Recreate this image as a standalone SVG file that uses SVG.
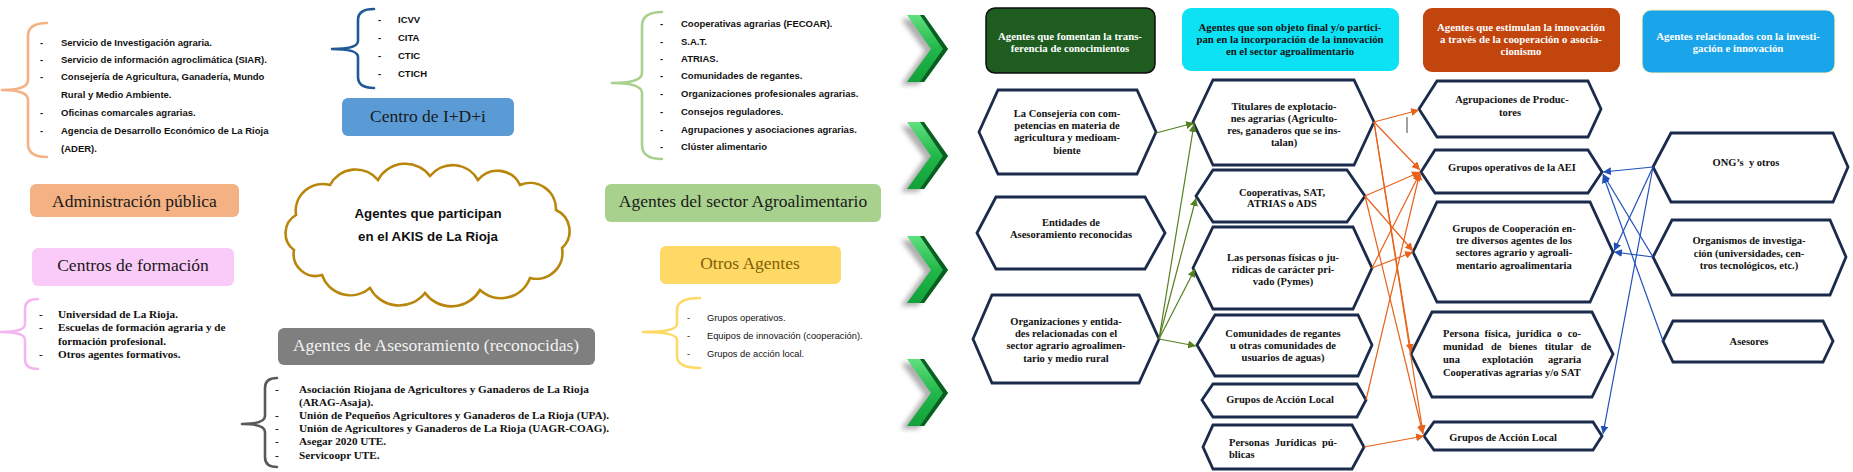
<svg xmlns="http://www.w3.org/2000/svg" width="1853" height="472" viewBox="0 0 1853 472">
<style>
.hex{fill:#fff;stroke:#1A2B4C;stroke-width:2.8;stroke-linejoin:miter}
.ht{font-family:"Liberation Serif",serif;font-weight:bold;font-size:10.5px;fill:#111;text-anchor:middle}
.hw{font-family:"Liberation Serif",serif;font-weight:bold;font-size:10.8px;fill:#fff;text-anchor:middle}
.hd{font-family:"Liberation Serif",serif;font-weight:bold;font-size:10.8px;fill:#111;text-anchor:middle}
.lbl{font-family:"Liberation Serif",serif;font-size:17.5px;text-anchor:middle;fill:#1a1a1a}
.ls{font-family:"Liberation Sans",sans-serif;font-weight:bold;font-size:9.5px;fill:#111}
.lr{font-family:"Liberation Sans",sans-serif;font-size:9.3px;fill:#111}
.lf{font-family:"Liberation Serif",serif;font-weight:bold;font-size:11.2px;fill:#111}
.brace{fill:none;stroke-width:2.6;stroke-linecap:round;stroke-linejoin:round}
.cg{stroke:#54801F;stroke-width:1.2;fill:none;marker-end:url(#ag)}
.co{stroke:#E8621A;stroke-width:1.2;fill:none;marker-end:url(#ao)}
.cb{stroke:#2150B8;stroke-width:1.2;fill:none;marker-end:url(#ab)}
</style>
<defs>
<marker id="ag" markerUnits="userSpaceOnUse" markerWidth="8" markerHeight="8" viewBox="0 0 10 10" refX="10" refY="5" orient="auto"><path d="M0,0 L10,5 L0,10 z" fill="#54801F"/></marker>
<marker id="ao" markerUnits="userSpaceOnUse" markerWidth="8" markerHeight="8" viewBox="0 0 10 10" refX="10" refY="5" orient="auto"><path d="M0,0 L10,5 L0,10 z" fill="#E8621A"/></marker>
<marker id="ab" markerUnits="userSpaceOnUse" markerWidth="8" markerHeight="8" viewBox="0 0 10 10" refX="10" refY="5" orient="auto"><path d="M0,0 L10,5 L0,10 z" fill="#2150B8"/></marker>
<linearGradient id="gch" x1="0" y1="0" x2="0" y2="1"><stop offset="0" stop-color="#5EE07E"/><stop offset="0.5" stop-color="#22B84A"/><stop offset="1" stop-color="#12A03A"/></linearGradient>
<filter id="blur" x="-50%" y="-50%" width="200%" height="200%"><feGaussianBlur stdDeviation="2.5"/></filter>
<g id="chev">
<polygon points="901,4 918,4 942,36 918,70 901,70 925,36" fill="#7a7a7a" opacity="0.6" filter="url(#blur)"/>
<polygon points="907,0 924,0 948,34 924,67 907,67 931,34" fill="url(#gch)"/>
<polygon points="920,0 924,0 948,34 924,67 920,67 943,34" fill="#0B5E22"/>
</g>
</defs>

<g id="chevrons">
<use href="#chev" transform="translate(0,15)"/>
<use href="#chev" transform="translate(0,122)"/>
<use href="#chev" transform="translate(0,236)"/>
<use href="#chev" transform="translate(0,359)"/>
</g>

<g id="admin">
<path class="brace" stroke="#F4B183" d="M47,23 Q28,23 28,36 L28,80 Q28,90 2,90 Q28,90 28,100 L28,144 Q28,157 47,157"/>
<text class="ls" x="40" y="46">-</text><text class="ls" x="61" y="46">Servicio de Investigación agraria.</text>
<text class="ls" x="40" y="63">-</text><text class="ls" x="61" y="63">Servicio de información agroclimática (SIAR).</text>
<text class="ls" x="40" y="80">-</text><text class="ls" x="61" y="80">Consejería de Agricultura, Ganadería, Mundo</text>
<text class="ls" x="61" y="98">Rural y Medio Ambiente.</text>
<text class="ls" x="40" y="116">-</text><text class="ls" x="61" y="116">Oficinas comarcales agrarias.</text>
<text class="ls" x="40" y="134">-</text><text class="ls" x="61" y="134">Agencia de Desarrollo Económico de La Rioja</text>
<text class="ls" x="61" y="152">(ADER).</text>
<rect x="30" y="184" width="209" height="33" rx="6" fill="#F4B183"/>
<text class="lbl" x="134.5" y="207">Administración pública</text>
</g>

<g id="formacion">
<rect x="32" y="248" width="202" height="38" rx="6" fill="#FACBF8"/>
<text class="lbl" x="133" y="271">Centros de formación</text>
<path class="brace" stroke="#F4B6F0" d="M38,299 Q25,299 25,309 L25,324 Q25,332 1,332 Q25,332 25,340 L25,359 Q25,369 38,369"/>
<text class="lf" x="39" y="318">-</text><text class="lf" x="58" y="318">Universidad de La Rioja.</text>
<text class="lf" x="39" y="331">-</text><text class="lf" x="58" y="331">Escuelas de formación agraria y de</text>
<text class="lf" x="58" y="345">formación profesional.</text>
<text class="lf" x="39" y="358">-</text><text class="lf" x="58" y="358">Otros agentes formativos.</text>
</g>

<g id="idi">
<path class="brace" stroke="#1F5A96" d="M374,9 Q358,9 358,20 L358,41 Q358,49 332,49 Q358,49 358,57 L358,77 Q358,88 374,88"/>
<text class="ls" x="378" y="23">-</text><text class="ls" x="398" y="23">ICVV</text>
<text class="ls" x="378" y="41">-</text><text class="ls" x="398" y="41">CITA</text>
<text class="ls" x="378" y="59">-</text><text class="ls" x="398" y="59">CTIC</text>
<text class="ls" x="378" y="77">-</text><text class="ls" x="398" y="77">CTICH</text>
<rect x="342" y="98" width="172" height="38" rx="6" fill="#5B9BD5"/>
<text class="lbl" x="428" y="122">Centro de I+D+i</text>
</g>

<g id="cloud">
<path d="M296,215 A27,27 0 0 1 330,185 A29,29 0 0 1 378,180 A31,31 0 0 1 430,176 A29,29 0 0 1 478,180 A25,25 0 0 1 520,185 A26,26 0 0 1 556,210 A23,23 0 0 1 562,248 A26,26 0 0 1 530,278 A31,31 0 0 1 480,290 A33,33 0 0 1 425,293 A33,33 0 0 1 370,288 A30,30 0 0 1 322,275 A22,22 0 0 1 294,250 A21,21 0 0 1 296,215 Z" fill="#fff" stroke="#B8860B" stroke-width="2.6"/>
<text x="428" y="218" font-family="Liberation Sans, sans-serif" font-weight="bold" font-size="13.3" text-anchor="middle" fill="#111">Agentes que participan</text>
<text x="428" y="241" font-family="Liberation Sans, sans-serif" font-weight="bold" font-size="13.3" text-anchor="middle" fill="#111">en el AKIS de La Rioja</text>
</g>

<g id="asesoramiento">
<rect x="278" y="328" width="317" height="37" rx="6" fill="#7F7F7F"/>
<text class="lbl" x="436" y="351" style="fill:#F2F2F2">Agentes de Asesoramiento (reconocidas)</text>
<path class="brace" stroke="#595959" d="M277,378 Q265,378 265,388 L265,416 Q265,424 242,424 Q265,424 265,432 L265,457 Q265,467 277,467"/>
<text class="lf" x="275" y="393">-</text><text class="lf" x="299" y="393">Asociación Riojana de Agricultores y Ganaderos de La Rioja</text>
<text class="lf" x="299" y="406">(ARAG-Asaja).</text>
<text class="lf" x="275" y="419">-</text><text class="lf" x="299" y="419">Unión de Pequeños Agricultores y Ganaderos de La Rioja (UPA).</text>
<text class="lf" x="275" y="432">-</text><text class="lf" x="299" y="432">Unión de Agricultores y Ganaderos de La Rioja (UAGR-COAG).</text>
<text class="lf" x="275" y="445">-</text><text class="lf" x="299" y="445">Asegar 2020 UTE.</text>
<text class="lf" x="275" y="459">-</text><text class="lf" x="299" y="459">Servicoopr UTE.</text>
</g>

<g id="agro">
<path class="brace" stroke="#A9D18E" d="M662,12 Q642,12 642,26 L642,73 Q642,83 612,83 Q642,83 642,93 L642,145 Q642,159 662,159"/>
<text class="ls" x="660" y="27">-</text><text class="ls" x="681" y="27">Cooperativas agrarias (FECOAR).</text>
<text class="ls" x="660" y="45">-</text><text class="ls" x="681" y="45">S.A.T.</text>
<text class="ls" x="660" y="62">-</text><text class="ls" x="681" y="62">ATRIAS.</text>
<text class="ls" x="660" y="79">-</text><text class="ls" x="681" y="79">Comunidades de regantes.</text>
<text class="ls" x="660" y="97">-</text><text class="ls" x="681" y="97">Organizaciones profesionales agrarias.</text>
<text class="ls" x="660" y="115">-</text><text class="ls" x="681" y="115">Consejos reguladores.</text>
<text class="ls" x="660" y="133">-</text><text class="ls" x="681" y="133">Agrupaciones y asociaciones agrarias.</text>
<text class="ls" x="660" y="150">-</text><text class="ls" x="681" y="150">Clúster alimentario</text>
<rect x="605" y="184" width="276" height="38" rx="6" fill="#A9D18E"/>
<text class="lbl" x="743" y="207">Agentes del sector Agroalimentario</text>
</g>

<g id="otros">
<rect x="660" y="246" width="181" height="38" rx="6" fill="#FFD966"/>
<text class="lbl" x="750" y="269" style="fill:#7F6000">Otros Agentes</text>
<path class="brace" stroke="#FFD966" d="M700,298 Q677,298 677,310 L677,324 Q677,332 643,332 Q677,332 677,340 L677,356 Q677,368 700,368"/>
<text class="lr" x="687" y="321">-</text><text class="lr" x="707" y="321">Grupos operativos.</text>
<text class="lr" x="687" y="339">-</text><text class="lr" x="707" y="339">Equipos de innovación (cooperación).</text>
<text class="lr" x="687" y="357">-</text><text class="lr" x="707" y="357">Grupos de acción local.</text>
</g>

<g id="hdr-fomentan">
<rect x="986" y="8" width="169" height="65" rx="9" fill="#1E5C1F" stroke="#0d0d0d" stroke-width="1.5"/>
<text class="hw" x="1070" y="40">Agentes que fomentan la trans-</text>
<text class="hw" x="1070" y="52">ferencia de conocimientos</text>
</g>
<g id="hdr-objeto">
<rect x="1182" y="8" width="217" height="63" rx="9" fill="#0CE2F4"/>
<text class="hd" x="1290" y="31">Agentes que son objeto final y/o partici-</text>
<text class="hd" x="1290" y="43">pan en la incorporación de la innovación</text>
<text class="hd" x="1290" y="55">en el sector agroalimentario</text>
</g>
<g id="hdr-estimulan">
<rect x="1423" y="8" width="197" height="64" rx="9" fill="#C2450E"/>
<text class="hw" x="1521" y="31">Agentes que estimulan la innovación</text>
<text class="hw" x="1521" y="43">a través de la cooperación o asocia-</text>
<text class="hw" x="1521" y="55">cionismo</text>
</g>
<g id="hdr-investigacion">
<rect x="1642" y="10" width="193" height="63" rx="9" fill="#1AA4EA" stroke="#FFF3C0" stroke-width="1.2"/>
<text class="hw" x="1738" y="40">Agentes relacionados con la investi-</text>
<text class="hw" x="1738" y="52">gación e innovación</text>
</g>

<g id="n-consejeria">
<polygon class="hex" points="979,132 998,90 1137,90 1156,132 1137,174 998,174"/>
<text class="ht" x="1067" y="117">La Consejería con com-</text>
<text class="ht" x="1067" y="129">petencias en materia de</text>
<text class="ht" x="1067" y="141">agricultura y medioam-</text>
<text class="ht" x="1067" y="154">biente</text>
</g>
<g id="n-entidades">
<polygon class="hex" points="977,233 996,197 1145,197 1165,233 1145,269 996,269"/>
<text class="ht" x="1071" y="226">Entidades de</text>
<text class="ht" x="1071" y="238">Asesoramiento reconocidas</text>
</g>
<g id="n-organizaciones">
<polygon class="hex" points="973,339 992,295 1139,295 1159,339 1139,383 992,383"/>
<text class="ht" x="1066" y="325">Organizaciones y entida-</text>
<text class="ht" x="1066" y="337">des relacionadas con el</text>
<text class="ht" x="1066" y="349">sector agrario agroalimen-</text>
<text class="ht" x="1066" y="362">tario y medio rural</text>
</g>

<g id="n-titulares">
<polygon class="hex" points="1193,122 1213,80 1354,80 1374,122 1354,165 1213,165"/>
<text class="ht" x="1284" y="110">Titulares de explotacio-</text>
<text class="ht" x="1284" y="122">nes agrarias (Agriculto-</text>
<text class="ht" x="1284" y="134">res, ganaderos que se ins-</text>
<text class="ht" x="1284" y="146">talan)</text>
</g>
<g id="n-cooperativas">
<polygon class="hex" points="1196,196 1213,170 1347,170 1365,196 1347,222 1213,222"/>
<text class="ht" x="1282" y="196">Cooperativas, SAT,</text>
<text class="ht" x="1282" y="207">ATRIAS o ADS</text>
</g>
<g id="n-personas">
<polygon class="hex" points="1193,268 1213,227 1353,227 1372,268 1353,309 1213,309"/>
<text class="ht" x="1283" y="261">Las personas físicas o ju-</text>
<text class="ht" x="1283" y="273">rídicas de carácter pri-</text>
<text class="ht" x="1283" y="285">vado (Pymes)</text>
</g>
<g id="n-comunidades">
<polygon class="hex" points="1197,345 1215,315 1358,315 1372,345 1358,376 1215,376"/>
<text class="ht" x="1283" y="337">Comunidades de regantes</text>
<text class="ht" x="1283" y="349">u otras comunidades de</text>
<text class="ht" x="1283" y="361">usuarios de aguas)</text>
</g>
<g id="n-gal1">
<polygon class="hex" points="1202,400 1213,384 1357,384 1366,400 1357,417 1213,417"/>
<text class="ht" x="1280" y="403">Grupos de Acción Local</text>
</g>
<g id="n-pjpublicas">
<polygon class="hex" points="1203,447 1213,425 1352,425 1364,447 1352,469 1213,469"/>
<text class="ht" x="1229" y="446" style="text-anchor:start;word-spacing:3px">Personas Jurídicas pú-</text>
<text class="ht" x="1229" y="458" style="text-anchor:start">blicas</text>
</g>

<g id="n-agrupaciones">
<polygon class="hex" points="1419,109 1437,81 1588,81 1601,109 1588,137 1437,137"/>
<text class="ht" x="1512" y="103">Agrupaciones de Produc-</text>
<text class="ht" x="1510" y="116">tores</text>
</g>
<g id="n-gruposop">
<polygon class="hex" points="1421,172 1435,150 1588,150 1602,172 1588,193 1435,193"/>
<text class="ht" x="1512" y="171">Grupos operativos de la AEI</text>
</g>
<g id="n-cooperacion">
<polygon class="hex" points="1413,252 1437,202 1590,202 1613,252 1590,302 1437,302"/>
<text class="ht" x="1514" y="232">Grupos de Cooperación en-</text>
<text class="ht" x="1514" y="244">tre diversos agentes de los</text>
<text class="ht" x="1514" y="256">sectores agrario y agroali-</text>
<text class="ht" x="1514" y="269">mentario agroalimentaria</text>
</g>
<g id="n-persona-fisica">
<polygon class="hex" points="1411,354 1432,312 1592,312 1613,354 1592,397 1432,397"/>
<text class="ht" x="1443" y="337" style="text-anchor:start;word-spacing:2.8px">Persona física, jurídica o co-</text>
<text class="ht" x="1443" y="350" style="text-anchor:start;word-spacing:5px">munidad de bienes titular de</text>
<text class="ht" y="363" style="text-anchor:start"><tspan x="1443">una</tspan><tspan x="1482">explotación</tspan><tspan x="1548">agraria</tspan></text>
<text class="ht" x="1443" y="376" style="text-anchor:start">Cooperativas agrarias y/o SAT</text>
</g>
<g id="n-gal2">
<polygon class="hex" points="1424,436 1434,422 1593,422 1602,436 1593,450 1434,450"/>
<text class="ht" x="1503" y="441">Grupos de Acción Local</text>
</g>

<g id="n-ong">
<polygon class="hex" points="1653,167 1671,133 1833,133 1848,167 1833,202 1671,202"/>
<text class="ht" x="1746" y="166" xml:space="preserve">ONG’s  y otros</text>
</g>
<g id="n-organismos">
<polygon class="hex" points="1653,257 1672,220 1830,220 1846,257 1830,295 1672,295"/>
<text class="ht" x="1749" y="244">Organismos de investiga-</text>
<text class="ht" x="1749" y="257">ción (universidades, cen-</text>
<text class="ht" x="1749" y="269">tros tecnológicos, etc.)</text>
</g>
<g id="n-asesores">
<polygon class="hex" points="1663,341 1673,321 1823,321 1833,341 1823,362 1673,362"/>
<text class="ht" x="1749" y="345">Asesores</text>
</g>

<g id="connectors">
<line class="cg" x1="1156" y1="133" x2="1194" y2="123"/>
<line class="cg" x1="1159" y1="339" x2="1194" y2="124"/>
<line class="cg" x1="1159" y1="339" x2="1196" y2="198"/>
<line class="cg" x1="1159" y1="339" x2="1195" y2="269"/>
<line class="cg" x1="1159" y1="339" x2="1196" y2="346"/>

<line class="co" x1="1374" y1="122" x2="1419" y2="110"/>
<line class="co" x1="1374" y1="122" x2="1420" y2="170"/>
<line class="co" x1="1374" y1="122" x2="1411" y2="352"/>
<line class="co" x1="1374" y1="122" x2="1423" y2="433"/>
<line class="co" x1="1365" y1="196" x2="1420" y2="172"/>
<line class="co" x1="1365" y1="196" x2="1413" y2="251"/>
<line class="co" x1="1365" y1="196" x2="1423" y2="434"/>
<line class="co" x1="1372" y1="268" x2="1413" y2="252"/>
<line class="co" x1="1372" y1="268" x2="1420" y2="173"/>
<line class="co" x1="1366" y1="400" x2="1420" y2="172"/>
<line class="co" x1="1364" y1="447" x2="1424" y2="436"/>

<line class="cb" x1="1653" y1="167" x2="1603" y2="172"/>
<line class="cb" x1="1653" y1="167" x2="1614" y2="251"/>
<line class="cb" x1="1653" y1="167" x2="1603" y2="434"/>
<line class="cb" x1="1653" y1="257" x2="1614" y2="252"/>
<line class="cb" x1="1653" y1="257" x2="1603" y2="174"/>
<line class="cb" x1="1663" y1="341" x2="1603" y2="175"/>
<line x1="1407" y1="117" x2="1407" y2="133" stroke="#444" stroke-width="1"/>
</g>
</svg>
